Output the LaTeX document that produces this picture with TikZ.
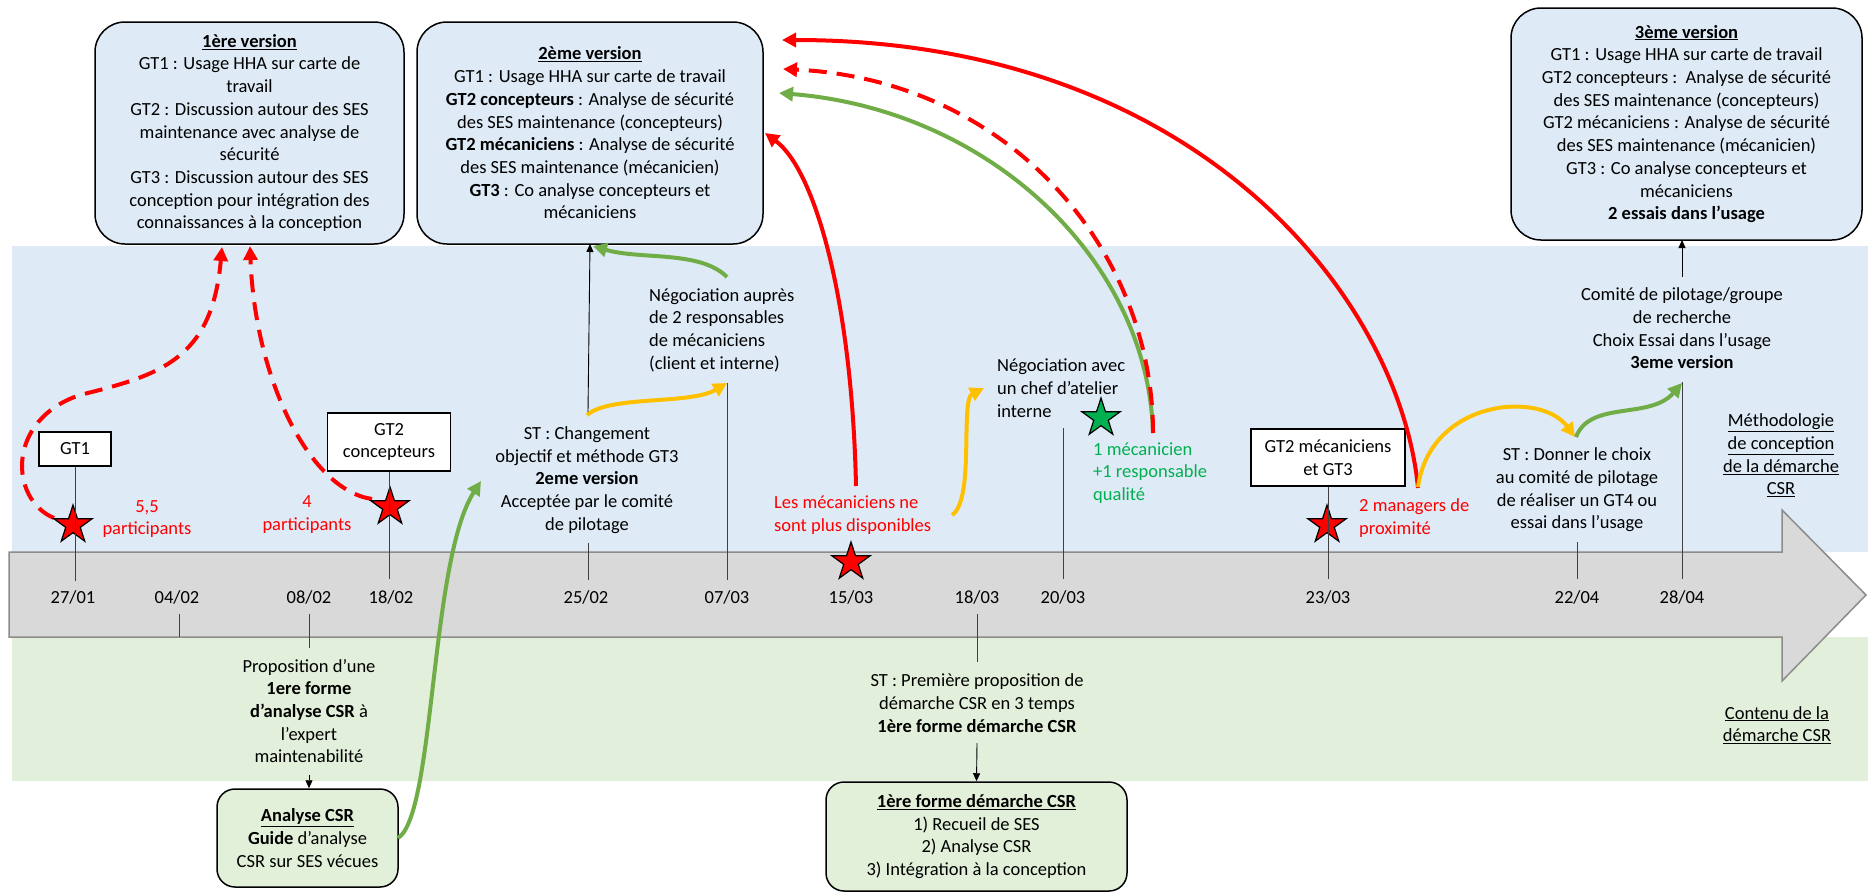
\documentclass[tikz,border=0pt]{standalone}
\usepackage{fontspec}
\setmainfont{Carlito}
\usetikzlibrary{shapes.geometric,arrows.meta}
\definecolor{bandblue}{HTML}{DEEAF6}
\definecolor{boxblue}{HTML}{DEEBF7}
\definecolor{bandgreen}{HTML}{E2EFDA}
\definecolor{boxgreen}{HTML}{E2F0D9}
\definecolor{bargrey}{HTML}{D9D9D9}
\definecolor{barline}{HTML}{8C8C8C}
\definecolor{myred}{HTML}{FF0000}
\definecolor{mygreen}{HTML}{70AD47}
\definecolor{myyellow}{HTML}{FFC000}
\definecolor{txtgreen}{HTML}{00B050}
\definecolor{tickcol}{HTML}{404040}
\begin{document}
\begin{tikzpicture}[x=1pt,y=-1pt,
  every node/.style={font=\fontsize{18.5}{22.7}\selectfont, inner sep=0pt},
  bigbox/.style={draw=black, line width=1.5pt, rounded corners=30pt, fill=boxblue, align=center},
  greenbox/.style={draw=black, line width=1.5pt, rounded corners=18pt, fill=boxgreen, align=center},
  gtbox/.style={draw=black, line width=1.3pt, fill=white, align=center},
  txt/.style={align=center},
  ltxt/.style={align=left, anchor=west},
  datelbl/.style={anchor=center},
  tickline/.style={draw=tickcol, line width=0.9pt},
  thinarrow/.style={draw=black, line width=0.9pt, -{Triangle[length=8pt,width=7pt]}},
  redarrow/.style={draw=myred, line width=4pt, -{Triangle[length=14pt,width=14pt]}},
  reddash/.style={draw=myred, line width=4pt, dash pattern=on 18pt off 10pt, -{Triangle[length=14pt,width=14pt]}},
  greenarrow/.style={draw=mygreen, line width=4pt, -{Triangle[length=14pt,width=14pt]}},
  yellowarrow/.style={draw=myyellow, line width=4pt, -{Triangle[length=14pt,width=14pt]}},
  mystar/.style={star, star points=5, star point ratio=2.618, minimum size=40pt, inner sep=0pt, draw=black, line width=1.2pt, fill=myred}
]
\useasboundingbox (0,0) rectangle (1868,894);
\fill[white] (0,0) rectangle (1868,894);

% bands
\fill[bandblue] (12,246) rectangle (1868,552);
\fill[bandgreen] (12,637) rectangle (1868,781);
% timeline arrow
\draw[fill=bargrey, draw=barline, line width=1.5pt]
  (9,552) -- (1782,552) -- (1782,510) -- (1866,595) -- (1782,681) -- (1782,637) -- (9,637) -- cycle;

% big boxes
\node[bigbox, minimum width=309pt, minimum height=222pt] (v1) at (249.5,133) {\textbf{\underline{1ère version}}\\GT1 : Usage HHA sur carte de\\travail\\GT2 : Discussion autour des SES\\maintenance avec analyse de\\sécurité\\GT3 : Discussion autour des SES\\conception pour intégration des\\connaissances à la conception};
\node[bigbox, minimum width=346pt, minimum height=222pt] (v2) at (590,133) {\textbf{\underline{2ème version}}\\GT1 : Usage HHA sur carte de travail\\\textbf{GT2 concepteurs} : Analyse de sécurité\\des SES maintenance (concepteurs)\\\textbf{GT2 mécaniciens} : Analyse de sécurité\\des SES maintenance (mécanicien)\\\textbf{GT3} : Co analyse concepteurs et\\mécaniciens};
\node[bigbox, minimum width=351pt, minimum height=232pt] (v3) at (1686.5,124) {\textbf{\underline{3ème version}}\\GT1 : Usage HHA sur carte de travail\\GT2 concepteurs :~~Analyse de sécurité\\des SES maintenance (concepteurs)\\GT2 mécaniciens : Analyse de sécurité\\des SES maintenance (mécanicien)\\GT3 : Co analyse concepteurs et\\mécaniciens\\\textbf{2 essais dans l’usage}};
\node[greenbox, minimum width=181pt, minimum height=98pt] (ana) at (307.5,838) {\textbf{\underline{Analyse CSR}}\\\textbf{Guide} d’analyse\\CSR sur SES vécues};
\node[greenbox, minimum width=301pt, minimum height=109pt] (forme) at (976.5,836.5) {\textbf{\underline{1ère forme démarche CSR}}\\1) Recueil de SES\\2) Analyse CSR\\3) Intégration à la conception};

% GT boxes
\node[gtbox, minimum width=72pt, minimum height=34pt] (gt1) at (75,449) {GT1};
\node[gtbox, minimum width=123pt, minimum height=58pt] (gt2c) at (389,442) {GT2\\concepteurs};
\node[gtbox, minimum width=154pt, minimum height=57pt] (gt2m) at (1328,457.5) {GT2 mécaniciens\\et GT3};

% dates
\node[datelbl] (d1) at (73,597) {27/01};
\node[datelbl] (d2) at (177,597) {04/02};
\node[datelbl] (d3) at (309,597) {08/02};
\node[datelbl] (d4) at (391,597) {18/02};
\node[datelbl] (d5) at (586,597) {25/02};
\node[datelbl] (d6) at (727,597) {07/03};
\node[datelbl] (d7) at (851,597) {15/03};
\node[datelbl] (d8) at (977,597) {18/03};
\node[datelbl] (d9) at (1063,597) {20/03};
\node[datelbl] (d10) at (1328,597) {23/03};
\node[datelbl] (d11) at (1577,597) {22/04};
\node[datelbl] (d12) at (1682,597) {28/04};

% texts
\node[txt] (st1) at (587,480) {ST : Changement\\objectif et méthode GT3\\\textbf{2eme version}\\Acceptée par le comité\\de pilotage};
\node[ltxt] (nego1) at (649,330) {Négociation auprès\\de 2 responsables\\de mécaniciens\\(client et interne)};
\node[ltxt, text=myred] (meca) at (774,515) {Les mécaniciens ne\\sont plus disponibles};
\node[ltxt] (nego2) at (997,388) {Négociation avec\\un chef d’atelier\\interne};
\node[ltxt, text=txtgreen] (qual) at (1093,473) {1 mécanicien\\+1 responsable\\qualité};
\node[ltxt, text=myred] (mgr) at (1359,518) {2 managers de\\proximité};
\node[txt] (st2) at (1577,490) {ST : Donner le choix\\au comité de pilotage\\de réaliser un GT4 ou\\essai dans l’usage};
\node[txt] (comite) at (1682,328.5) {Comité de pilotage/groupe\\de recherche\\Choix Essai dans l’usage\\\textbf{3eme version}};
\node[txt] (metho) at (1781,455.5) {\underline{Méthodologie}\\\underline{de conception}\\\underline{de la démarche}\\\underline{CSR}};
\node[txt] (contenu) at (1777,725) {\underline{Contenu de la}\\\underline{démarche CSR}};
\node[txt, text=myred] (p55) at (147,519) {5,5\\participants};
\node[txt, text=myred] (p4) at (307,514.5) {4\\participants};
\node[txt] (prop) at (309,711) {Proposition d’une\\\textbf{1ere forme}\\\textbf{d’analyse CSR} à\\l’expert\\maintenabilité};
\node[txt] (st3) at (977,703) {ST : Première proposition de\\démarche CSR en 3 temps\\\textbf{1ère forme démarche CSR}};

% coordinates
\coordinate (t1b) at (75,581);
\coordinate (t2a) at (179,614); \coordinate (t2b) at (179,637);
\coordinate (t3a) at (309,614); \coordinate (t3b) at (309,648);
\coordinate (t4b) at (389,579);
\coordinate (t5a) at (588,543); \coordinate (t5b) at (588,580);
\coordinate (t6a) at (727,383); \coordinate (t6b) at (727,580);
\coordinate (t8a) at (977,614); \coordinate (t8b) at (977,662);
\coordinate (t9a) at (1063,428); \coordinate (t9b) at (1063,579);
\coordinate (t10b) at (1328,579);
\coordinate (t11a) at (1577,542); \coordinate (t11b) at (1577,579);
\coordinate (t12a) at (1682,382); \coordinate (t12b) at (1682,579);

% colored arrows
\draw[reddash] (54,518) .. controls (10,500) and (5,420) .. (80,395) .. controls (160,375) and (212,360) .. (222,247);
\draw[reddash] (372,499) .. controls (310,490) and (255,380) .. (250,246);
\draw[greenarrow] (398,838) .. controls (435,815) and (430,560) .. (481,481);
\draw[yellowarrow] (587,415) .. controls (610,395) and (690,405) .. (727,383);
\draw[greenarrow] (727,277) .. controls (700,250) and (640,260) .. (593,246);
\draw[redarrow] (856,486) .. controls (852,300) and (815,170) .. (765,133);
\draw[yellowarrow] (952,515) .. controls (975,500) and (960,400) .. (984,388);
\draw[greenarrow] (1153,433) .. controls (1148,260) and (990,110) .. (779,93);
\draw[reddash] (1153,433) .. controls (1153,250) and (1010,80) .. (783,69);
\draw[redarrow] (1418,488) .. controls (1400,300) and (1200,40) .. (782,40);
\draw[yellowarrow] (1418,487) .. controls (1430,400) and (1540,390) .. (1575,437);
\draw[greenarrow] (1576,437) .. controls (1590,400) and (1650,420) .. (1682,383);

% stars
\node[mystar] (s1) at (73,525) {};
\node[mystar] (s2) at (390,507) {};
\node[mystar] (s3) at (851,562) {};
\node[mystar, fill=txtgreen] (s4) at (1101,418) {};
\node[mystar] (s5) at (1327,525) {};

% ticks
\draw[tickline] (gt1.south) -- (t1b);
\draw[tickline] (t2a) -- (t2b);
\draw[tickline] (t3a) -- (t3b);
\draw[tickline] (gt2c.south) -- (t4b);
\draw[tickline] (t5a) -- (t5b);
\draw[tickline] (t6a) -- (t6b);
\draw[tickline] (t8a) -- (t8b);
\draw[tickline] (t9a) -- (t9b);
\draw[tickline] (gt2m.south) -- (t10b);
\draw[tickline] (t11a) -- (t11b);
\draw[tickline] (t12a) -- (t12b);

% thin arrows
\draw[thinarrow] (588,412) -- (590,244);
\draw[thinarrow] (1682,277) -- (1682,240);
\draw[thinarrow] (309,775) -- (ana.north -| 309,0);
\draw[thinarrow] (977,743) -- (forme.north);
\end{tikzpicture}
\end{document}
